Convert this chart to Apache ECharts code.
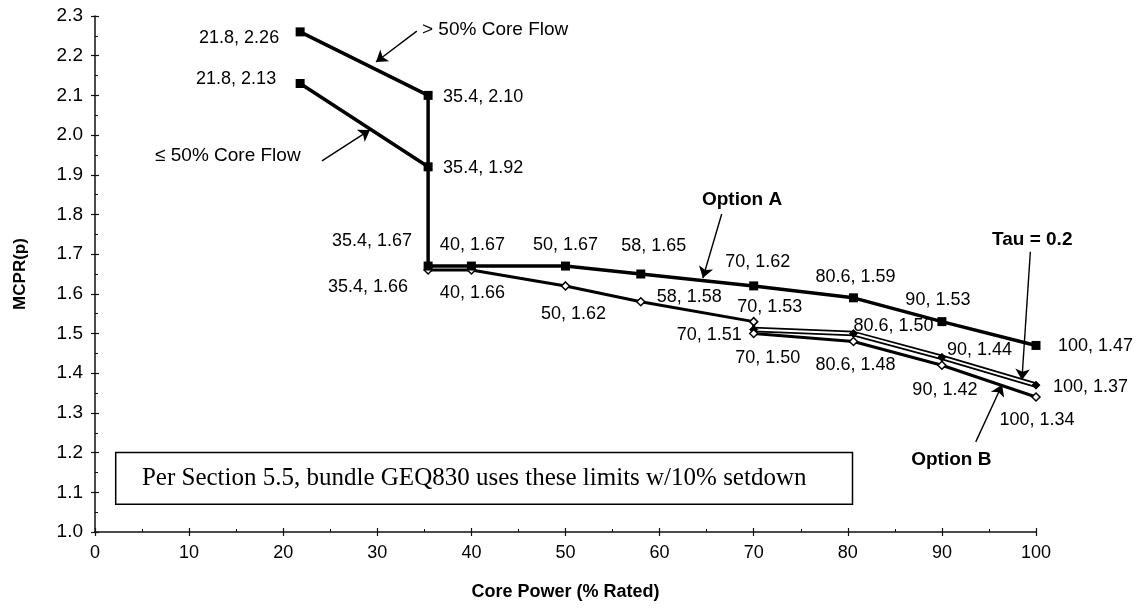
<!DOCTYPE html>
<html>
<head>
<meta charset="utf-8">
<script src="https://cdn.jsdelivr.net/npm/echarts@6/dist/echarts.min.js"></script>
<style>
html,body{margin:0;padding:0;background:#fff;}
#chart{width:1138px;height:608px;}
</style>
</head>
<body>
<div id="chart"></div>
<script>
// ---------------- DATA ----------------
const xTicks = [0, 10, 20, 30, 40, 50, 60, 70, 80, 90, 100];
const yTicks = [1.0, 1.1, 1.2, 1.3, 1.4, 1.5, 1.6, 1.7, 1.8, 1.9, 2.0, 2.1, 2.2, 2.3];

// Option A (> 50% core flow branch + Option A limits)
const optionA_x = [21.8, 35.4, 35.4, 40, 50, 58, 70, 80.6, 90, 100];
const optionA_y = [2.26, 2.10, 1.67, 1.67, 1.67, 1.65, 1.62, 1.59, 1.53, 1.47];

// <= 50% core flow branch
const lowFlow_x = [21.8, 35.4];
const lowFlow_y = [2.13, 1.92];

// Option B
const optionB_x = [35.4, 40, 50, 58, 70, 70, 80.6, 90, 100];
const optionB_y = [1.66, 1.66, 1.62, 1.58, 1.53, 1.50, 1.48, 1.42, 1.34];

// Tau = 0.2
const tau_x = [70, 80.6, 90, 100];
const tau_y = [1.51, 1.50, 1.44, 1.37];

// Annotation texts
const noteHighFlow = '> 50% Core Flow';
const noteLowFlow = '\u2264 50% Core Flow';
const noteOptionA = 'Option A';
const noteOptionB = 'Option B';
const noteTau = 'Tau = 0.2';
const boxText = 'Per Section 5.5, bundle GEQ830 uses these limits w/10% setdown';
const xTitle = 'Core Power (% Rated)';
const yTitle = 'MCPR(p)';

// ---------------- STYLE / PLACEMENT ----------------
// label placement per point: [align, dx, dy]
const placeA = [['right',-21,6],['left',15,2],['right',-16,-25],['center',1,-21],['center',0,-21],
                ['center',13,-28],['center',4,-24],['center',2,-21],['center',-4,-22],['left',22,1]];
const placeLow = [['right',-24,-4],['left',15,1]];
const placeB = [['right',-20,17],['center',1,23],['center',8,28],['left',16,-5],['center',16,-15],
                ['center',14,24],['center',2,24],['center',3,25],['center',1,23]];
const placeTau = [['right',-12,5],['left',0,-8],['left',5,-7],['left',17,2]];

const SANS = '"Liberation Sans", Arial, sans-serif';
const SERIF = '"Liberation Serif", "Times New Roman", serif';
const LBL = 18;

function fmt(x, y){ return x + ', ' + y.toFixed(2); }

function buildData(xs, ys, place){
  return xs.map((x, i) => ({
    value: [x, ys[i]],
    label: {
      show: true, position: 'inside',
      align: place[i][0], verticalAlign: 'middle',
      offset: [place[i][1], place[i][2]],
      formatter: fmt(x, ys[i]),
      fontFamily: SANS, fontSize: LBL, color: '#000',
      textBorderWidth: 0
    }
  }));
}

// annotation anchor points in data coordinates
const notes = [
  {value:[34.75, 2.265], text: noteHighFlow, align:'left', bold:false},
  {value:[6.38, 1.947], text: noteLowFlow, align:'left', bold:false},
  {value:[64.5, 1.837], text: noteOptionA, align:'left', bold:true},
  {value:[99.6, 1.736], text: noteTau, align:'center', bold:true},
  {value:[91.0, 1.182], text: noteOptionB, align:'center', bold:true}
];
const arrows = [
  [[34.2, 2.262],[29.86, 2.184]],
  [[24.12, 1.935],[29.22, 2.013]],
  [[66.6, 1.801],[64.6, 1.640]],
  [[99.4, 1.706],[98.5, 1.383]],
  [[93.6, 1.227],[96.4, 1.371]]
];

const chart = echarts.init(document.getElementById('chart'), null, {renderer:'canvas'});

const axisLineStyle = {color:'#111', width:1.5};

const option = {
  backgroundColor: '#fff',
  animation: false,
  grid: {left: 95, right: 102, top: 16, bottom: 76},
  xAxis: [
    {
      type:'value', min: xTicks[0], max: xTicks[xTicks.length-1], interval: 10,
      position:'bottom',
      axisLine:{show:true, onZero:false, lineStyle: axisLineStyle},
      axisTick:{show:true, inside:false, length:4, lineStyle:{color:'#111', width:1.2}},
      minorTick:{show:false},
      splitLine:{show:false},
      axisLabel:{color:'#000', fontFamily:SANS, fontSize:18, margin:12,
                 formatter: v => String(Math.round(v))},
      name: xTitle, nameLocation:'middle', nameGap: 51,
      nameTextStyle:{color:'#000', fontFamily:SANS, fontSize:18, fontWeight:'bold'}
    },
    {
      type:'value', min: xTicks[0], max: xTicks[xTicks.length-1], interval: 10,
      position:'bottom', offset:0,
      axisLine:{show:false, onZero:false},
      axisTick:{show:true, inside:true, length:4, lineStyle:{color:'#111', width:1.2}},
      minorTick:{show:true, splitNumber:2, length:3, lineStyle:{color:'#111', width:1}},
      splitLine:{show:false},
      axisLabel:{show:false}
    }
  ],
  yAxis: [
    {
      type:'value', min: yTicks[0], max: yTicks[yTicks.length-1], interval: 0.1,
      position:'left',
      axisLine:{show:true, onZero:false, lineStyle: axisLineStyle},
      axisTick:{show:true, inside:false, length:4, lineStyle:{color:'#111', width:1.2}},
      splitLine:{show:false},
      axisLabel:{color:'#000', fontFamily:SANS, fontSize:19, margin:12,
                 formatter: v => v.toFixed(1)},
      name: yTitle, nameLocation:'middle', nameGap: 66, nameRotate: 90,
      nameTextStyle:{color:'#000', fontFamily:SANS, fontSize:17, fontWeight:'bold'}
    },
    {
      type:'value', min: yTicks[0], max: yTicks[yTicks.length-1], interval: 0.1,
      position:'left', offset:0,
      axisLine:{show:false, onZero:false},
      axisTick:{show:true, inside:true, length:4, lineStyle:{color:'#111', width:1.2}},
      minorTick:{show:true, splitNumber:2, length:3, lineStyle:{color:'#111', width:1}},
      splitLine:{show:false},
      axisLabel:{show:false}
    }
  ],
  series: [
    {
      name:'Tau outline', type:'line', xAxisIndex:0, yAxisIndex:0,
      data: tau_x.map((x,i)=>[x, tau_y[i]]),
      showSymbol:false, symbol:'none', silent:true, z:2,
      lineStyle:{color:'#000', width:5.5}
    },
    {
      name:'Tau = 0.2', type:'line', xAxisIndex:0, yAxisIndex:0,
      data: buildData(tau_x, tau_y, placeTau),
      symbol:'diamond', symbolSize:8, showAllSymbol:true, silent:true, z:3,
      itemStyle:{color:'#000', borderColor:'#000', borderWidth:1},
      lineStyle:{color:'#fff', width:2}
    },
    {
      name:'Option B', type:'line', xAxisIndex:0, yAxisIndex:0,
      data: buildData(optionB_x, optionB_y, placeB),
      symbol:'diamond', symbolSize:8, showAllSymbol:true, silent:true, z:4,
      itemStyle:{color:'#fff', borderColor:'#000', borderWidth:1.5},
      lineStyle:{color:'#000', width:3}
    },
    {
      name:'<= 50% Core Flow', type:'line', xAxisIndex:0, yAxisIndex:0,
      data: buildData(lowFlow_x, lowFlow_y, placeLow),
      symbol:'rect', symbolSize:9, showAllSymbol:true, silent:true, z:5,
      itemStyle:{color:'#000'},
      lineStyle:{color:'#000', width:3.5}
    },
    {
      name:'Option A', type:'line', xAxisIndex:0, yAxisIndex:0,
      data: buildData(optionA_x, optionA_y, placeA),
      symbol:'rect', symbolSize:9, showAllSymbol:true, silent:true, z:5,
      itemStyle:{color:'#000'},
      lineStyle:{color:'#000', width:3.5}
    },
    {
      name:'notes', type:'scatter', xAxisIndex:0, yAxisIndex:0,
      symbolSize:0, silent:true, z:6,
      data: notes.map(n => ({
        value: n.value,
        label:{show:true, position:'inside', align:n.align, verticalAlign:'middle',
               formatter:n.text, fontFamily:SANS, fontSize:19,
               fontWeight: n.bold ? 'bold' : 'normal', color:'#000',
               textBorderWidth:0, opacity:1}
      })),
      markLine:{
        silent:true, symbol:['none','arrow'], symbolSize:11,
        lineStyle:{color:'#000', width:1.4, type:'solid', opacity:1},
        itemStyle:{color:'#000'},
        label:{show:false},
        emphasis:{disabled:true},
        data: arrows.map(a => [{coord:a[0]},{coord:a[1]}])
      },
      markArea:{
        silent:true,
        itemStyle:{color:'#fff', borderColor:'#000', borderWidth:1.5, opacity:1},
        label:{show:true, position:'insideLeft', distance:27, formatter: boxText,
               fontFamily:SERIF, fontSize:25, color:'#000'},
        data: [[{coord:[2.2, 1.2]},{coord:[80.5, 1.07]}]]
      }
    }
  ]
};

chart.setOption(option);
</script>
</body>
</html>
